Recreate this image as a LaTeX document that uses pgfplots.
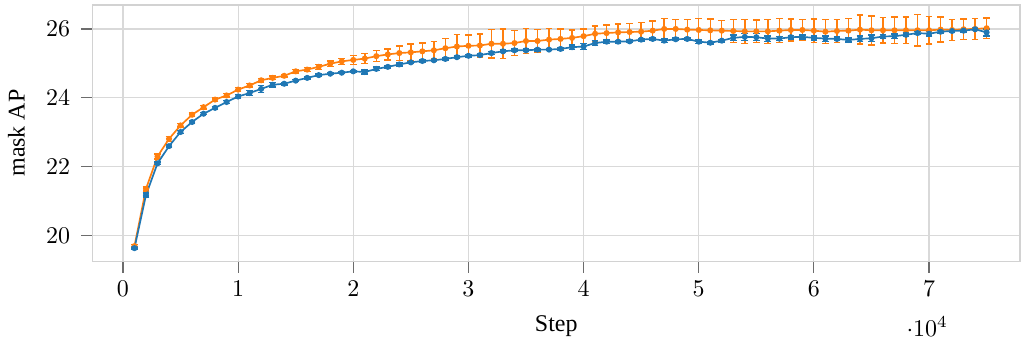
\documentclass[border=0pt]{standalone}
\usepackage[no-math]{fontspec}
\setmainfont{Liberation Serif}
\usepackage{pgfplots}
\usepackage{pgfplotstable}
\pgfplotsset{compat=1.18}
\definecolor{tabblue}{HTML}{1F77B4}
\definecolor{taborange}{HTML}{FF7F0E}
\pgfplotstableread{
x y e
1000 19.70 0.04
2000 21.36 0.06
3000 22.30 0.07
4000 22.81 0.07
5000 23.20 0.05
6000 23.51 0.05
7000 23.73 0.05
8000 23.95 0.05
9000 24.07 0.05
10000 24.24 0.06
11000 24.36 0.05
12000 24.51 0.05
13000 24.58 0.05
14000 24.64 0.04
15000 24.77 0.05
16000 24.82 0.06
17000 24.90 0.07
18000 24.99 0.08
19000 25.06 0.09
20000 25.10 0.13
21000 25.14 0.15
22000 25.21 0.16
23000 25.26 0.16
24000 25.30 0.21
25000 25.32 0.24
26000 25.35 0.24
27000 25.38 0.25
28000 25.44 0.29
29000 25.49 0.35
30000 25.51 0.31
31000 25.52 0.33
32000 25.57 0.41
33000 25.57 0.43
34000 25.59 0.36
35000 25.65 0.36
36000 25.65 0.33
37000 25.69 0.32
38000 25.71 0.29
39000 25.74 0.23
40000 25.79 0.21
41000 25.86 0.23
42000 25.88 0.24
43000 25.90 0.24
44000 25.91 0.24
45000 25.92 0.27
46000 25.95 0.28
47000 26.00 0.30
48000 26.00 0.28
49000 25.98 0.30
50000 25.97 0.33
51000 25.96 0.33
52000 25.95 0.30
53000 25.94 0.33
54000 25.93 0.35
55000 25.93 0.33
56000 25.93 0.35
57000 25.95 0.35
58000 25.97 0.32
59000 25.97 0.30
60000 25.95 0.34
61000 25.92 0.35
62000 25.94 0.33
63000 25.95 0.35
64000 25.98 0.42
65000 25.96 0.42
66000 25.96 0.37
67000 25.96 0.38
68000 25.96 0.38
69000 25.96 0.46
70000 25.96 0.40
71000 25.98 0.36
72000 25.97 0.30
73000 25.99 0.30
74000 26.00 0.30
75000 26.02 0.30
}\orangedata
\pgfplotstableread{
x y e
1000 19.64 0.03
2000 21.18 0.06
3000 22.10 0.04
4000 22.60 0.04
5000 23.01 0.04
6000 23.30 0.04
7000 23.54 0.03
8000 23.71 0.04
9000 23.88 0.05
10000 24.04 0.05
11000 24.14 0.07
12000 24.26 0.10
13000 24.38 0.07
14000 24.41 0.04
15000 24.50 0.03
16000 24.58 0.03
17000 24.66 0.03
18000 24.70 0.03
19000 24.73 0.03
20000 24.77 0.03
21000 24.75 0.06
22000 24.84 0.05
23000 24.90 0.03
24000 24.97 0.04
25000 25.03 0.03
26000 25.07 0.03
27000 25.09 0.03
28000 25.13 0.03
29000 25.18 0.03
30000 25.22 0.04
31000 25.24 0.04
32000 25.30 0.04
33000 25.35 0.04
34000 25.38 0.04
35000 25.38 0.04
36000 25.40 0.04
37000 25.40 0.03
38000 25.42 0.04
39000 25.47 0.07
40000 25.49 0.08
41000 25.59 0.07
42000 25.63 0.05
43000 25.63 0.04
44000 25.64 0.04
45000 25.69 0.04
46000 25.71 0.03
47000 25.66 0.05
48000 25.70 0.04
49000 25.71 0.03
50000 25.63 0.05
51000 25.60 0.04
52000 25.66 0.04
53000 25.74 0.08
54000 25.77 0.10
55000 25.76 0.10
56000 25.72 0.08
57000 25.72 0.06
58000 25.76 0.05
59000 25.77 0.06
60000 25.74 0.06
61000 25.72 0.08
62000 25.71 0.05
63000 25.68 0.06
64000 25.71 0.08
65000 25.73 0.10
66000 25.78 0.06
67000 25.79 0.06
68000 25.83 0.05
69000 25.88 0.04
70000 25.86 0.06
71000 25.92 0.04
72000 25.94 0.04
73000 25.95 0.04
74000 25.99 0.04
75000 25.90 0.10
}\bluedata
\begin{document}
\begin{tikzpicture}
\begin{axis}[
  scale only axis,
  width=387pt, height=107pt,
  xmin=-2650, xmax=77900,
  ymin=19.26, ymax=26.70,
  xtick={0,10000,20000,30000,40000,50000,60000,70000},
  ytick={20,22,24,26},
  scaled x ticks=base 10:-4,
  grid=major,
  major grid style={draw=gray!30, line width=0.5pt},
  axis line style={draw=gray!35, line width=0.6pt},
  tick pos=left,
  tick align=outside,
  major tick length=4.8pt,
  tick style={draw=gray!85!black, line width=0.5pt},
  xlabel={Step},
  ylabel={mask AP},
  xlabel style={yshift=-1pt},
  ylabel shift=2pt,
  yticklabel style={xshift=-1pt},
]
\addplot[taborange, line width=0.7pt, mark=*, mark size=0.9pt,
  error bars/.cd, y dir=both, y explicit,
  error bar style={line width=0.6pt, taborange},
  error mark options={rotate=90, mark size=1.4pt, line width=0.6pt, taborange}]
  table[x=x, y=y, y error=e] {\orangedata};
\addplot[tabblue, line width=0.7pt, mark=*, mark size=0.9pt,
  error bars/.cd, y dir=both, y explicit,
  error bar style={line width=0.6pt, tabblue},
  error mark options={rotate=90, mark size=1.4pt, line width=0.6pt, tabblue}]
  table[x=x, y=y, y error=e] {\bluedata};
\end{axis}
\path (current axis.north east) ++(3.75pt,2pt);
\end{tikzpicture}
\end{document}
